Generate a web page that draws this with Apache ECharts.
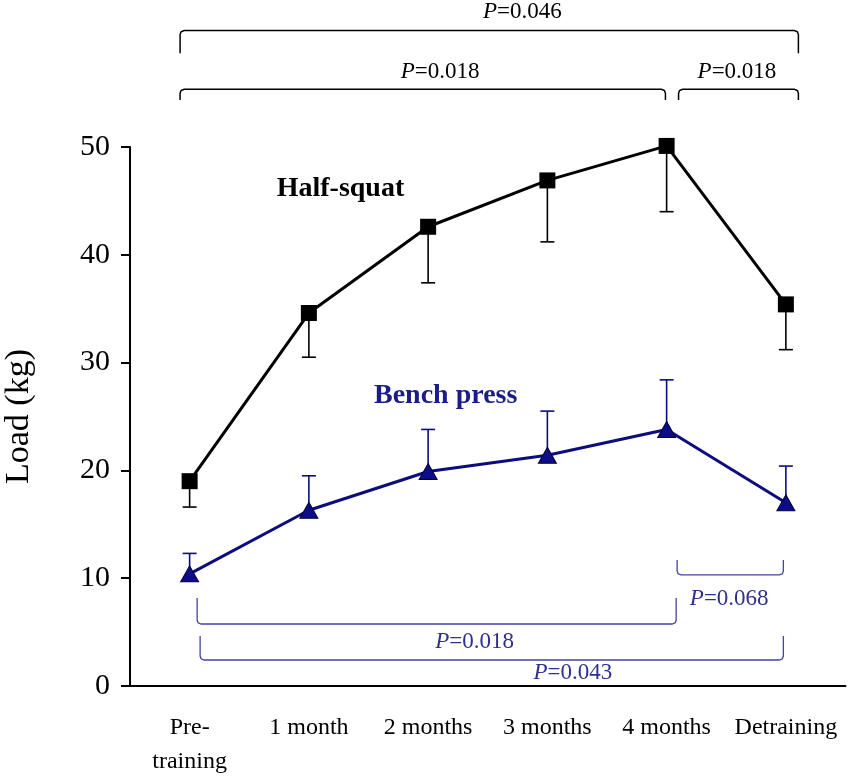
<!DOCTYPE html>
<html>
<head>
<meta charset="utf-8">
<script src="https://cdn.jsdelivr.net/npm/echarts@6/dist/echarts.min.js"></script>
<style>
  html, body { margin: 0; padding: 0; background: #fff; }
  #chart { width: 850px; height: 776px; }
</style>
</head>
<body>
<div id="chart"></div>
<script>
// categories and values
const categories = ['Pre-\ntraining', '1 month', '2 months', '3 months', '4 months', 'Detraining'];
const halfSquat = [19.0, 34.6, 42.6, 46.9, 50.1, 35.4];
const halfSquatLow = [16.6, 30.5, 37.4, 41.2, 44.0, 31.2];
const benchPress = [10.4, 16.3, 19.9, 21.4, 23.8, 17.0];
const benchPressHigh = [12.3, 19.5, 23.8, 25.5, 28.4, 20.4];

// annotations, in data space (x = category position, y = load)
const seriesNames = ['Half-squat', 'Bench press'];
const seriesNamePos = [[1.265, 46.1], [2.147, 26.9]];
// [x0, x1, yLine, yEnd]
const topBrackets = [[-0.08, 5.105, 60.8, 58.7], [-0.08, 3.99, 55.35, 54.35], [4.1, 5.105, 55.35, 54.35]];
const topPValues = ['0.046', '0.018', '0.018'];
const topPPos = [[2.79, 62.5], [2.1, 57.0], [4.59, 57.0]];
const bottomBrackets = [[4.088, 4.979, 10.3, 11.69], [0.063, 4.08, 5.75, 8.16], [0.088, 4.979, 2.41, 4.64]];
const bottomPValues = ['0.068', '0.018', '0.043'];
const bottomPPos = [[4.525, 8.07], [2.39, 4.08], [3.214, 1.21]];

const FONT = "'Liberation Serif', 'Times New Roman', serif";
const BLUE = '#0c0c7c';
const BRACKET_BLUE = '#4343a0';
const P_BLUE = '#2f2f8e';

let chart = echarts.init(document.getElementById('chart'));

// vertical error bar with a cap
function errorBar(color) {
  return function (params, api) {
    const top = api.coord([api.value(0), api.value(1)]);
    const end = api.coord([api.value(0), api.value(2)]);
    const w = 7;
    return {
      type: 'group',
      children: [
        { type: 'line', shape: { x1: top[0], y1: top[1], x2: end[0], y2: end[1] }, style: { stroke: color, lineWidth: 1.6 } },
        { type: 'line', shape: { x1: end[0] - w, y1: end[1], x2: end[0] + w, y2: end[1] }, style: { stroke: color, lineWidth: 1.6 } },
      ],
    };
  };
}

// bracket with slightly rounded ends
function bracket(color, width) {
  return function (params, api) {
    const a = api.coord([api.value(0), api.value(2)]);
    const b = api.coord([api.value(1), api.value(2)]);
    const e = api.coord([api.value(0), api.value(3)]);
    const d = e[1] > a[1] ? 1 : -1;
    const y = a[1];
    return {
      type: 'polyline',
      shape: {
        points: [
          [a[0], e[1]], [a[0], y + 4 * d], [a[0] + 1, y + 1.2 * d], [a[0] + 4, y],
          [b[0] - 4, y], [b[0] - 1, y + 1.2 * d], [b[0], y + 4 * d], [b[0], e[1]],
        ],
      },
      style: { stroke: color, lineWidth: width, fill: null },
    };
  };
}

function pLabel(color, values) {
  return function (params, api) {
    const p = api.coord([api.value(0), api.value(1)]);
    return {
      type: 'text',
      x: p[0],
      y: p[1],
      style: {
        text: '{i|P}{n|=' + values[params.dataIndex] + '}',
        align: 'center',
        verticalAlign: 'middle',
        rich: {
          i: { fontFamily: FONT, fontSize: 23, fontStyle: 'italic', fill: color },
          n: { fontFamily: FONT, fontSize: 23, fill: color },
        },
      },
    };
  };
}

let option = {
  backgroundColor: '#fff',
  animation: false,
  grid: { left: 130, right: 4.5, top: 147, bottom: 90, outerBoundsMode: 'none' },
  xAxis: [
    {
      type: 'category',
      data: categories,
      boundaryGap: true,
      axisLine: { onZero: false, lineStyle: { color: '#000', width: 2 } },
      axisTick: { show: false },
      axisLabel: { color: '#000', fontFamily: FONT, fontSize: 24, lineHeight: 34, margin: 25, interval: 0 },
    },
    { type: 'value', min: -0.5, max: 5.5, show: false },
  ],
  yAxis: {
    type: 'value',
    min: 0,
    max: 50,
    interval: 10,
    name: 'Load (kg)',
    nameLocation: 'middle',
    nameGap: 94,
    nameTextStyle: { color: '#000', fontFamily: FONT, fontSize: 34 },
    splitLine: { show: false },
    axisLine: { show: true, onZero: false, lineStyle: { color: '#000', width: 2 } },
    axisTick: { show: true, length: 9, lineStyle: { color: '#000', width: 2 } },
    axisLabel: { color: '#000', fontFamily: FONT, fontSize: 30, margin: 20 },
  },
  series: [
    {
      type: 'custom',
      renderItem: errorBar('#000'),
      data: halfSquat.map((v, i) => [i, v, halfSquatLow[i]]),
      z: 1,
    },
    {
      type: 'custom',
      renderItem: errorBar(BLUE),
      data: benchPress.map((v, i) => [i, v, benchPressHigh[i]]),
      z: 1,
    },
    {
      name: 'Half-squat',
      type: 'line',
      data: halfSquat,
      clip: false,
      symbol: 'rect',
      symbolSize: 16,
      lineStyle: { color: '#000', width: 3 },
      itemStyle: { color: '#000' },
      z: 3,
    },
    {
      name: 'Bench press',
      type: 'line',
      data: benchPress,
      clip: false,
      symbol: 'triangle',
      symbolSize: [18, 16],
      lineStyle: { color: BLUE, width: 3 },
      itemStyle: { color: '#0d0d88', borderColor: '#00003a', borderWidth: 1 },
      z: 3,
    },
    {
      type: 'custom',
      xAxisIndex: 1,
      renderItem: function (params, api) {
        const p = api.coord([api.value(0), api.value(1)]);
        const i = params.dataIndex;
        return {
          type: 'text',
          x: p[0],
          y: p[1],
          style: {
            text: seriesNames[i],
            align: 'center',
            verticalAlign: 'middle',
            fontFamily: FONT,
            fontSize: 28,
            fontWeight: 'bold',
            fill: i === 0 ? '#000' : '#1c1c88',
          },
        };
      },
      data: seriesNamePos,
      z: 4,
    },
    { type: 'custom', xAxisIndex: 1, renderItem: bracket('#000', 1.5), data: topBrackets, z: 2 },
    { type: 'custom', xAxisIndex: 1, renderItem: bracket(BRACKET_BLUE, 1.3), data: bottomBrackets, z: 2 },
    { type: 'custom', xAxisIndex: 1, renderItem: pLabel('#000', topPValues), data: topPPos, z: 4 },
    { type: 'custom', xAxisIndex: 1, renderItem: pLabel(P_BLUE, bottomPValues), data: bottomPPos, z: 4 },
  ],
};

option && chart.setOption(option);
</script>
</body>
</html>
